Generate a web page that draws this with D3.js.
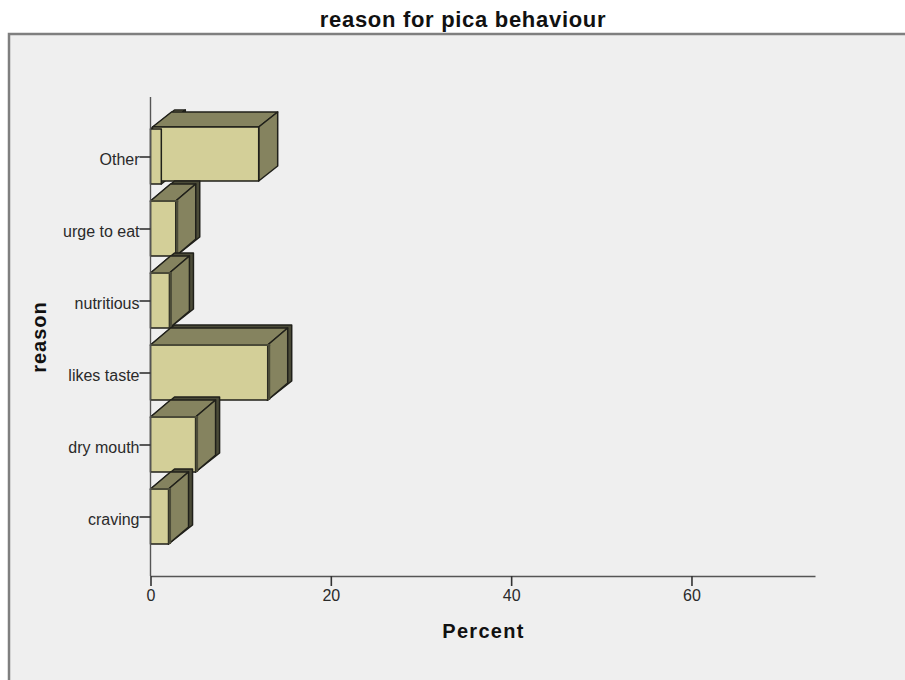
<!DOCTYPE html>
<html>
<head>
<meta charset="utf-8">
<script src="https://cdn.jsdelivr.net/npm/d3@7"></script>
<style>
html, body { margin: 0; padding: 0; background: #fff; }
svg { display: block; font-family: "Liberation Sans", Arial, sans-serif; }
.axis path { stroke: #555; stroke-width: 1.4; }
.axis line { stroke: #333; stroke-width: 1.6; }
.axis text { fill: #2a2a2a; font-size: 16px; font-family: "Liberation Sans", Arial, sans-serif; }
.edge { stroke: #20201a; stroke-width: 1.5; stroke-linejoin: round; }
.band { fill: #4b4b38; }
</style>
</head>
<body>
<div id="chart"></div>
<script>
var categories = ["craving", "dry mouth", "likes taste", "nutritious", "urge to eat", "Other"];
var percents = [2.0, 5.0, 13.0, 2.1, 2.8, 1.2];
// "Other" has a second, longer bar sitting behind the short one
var otherCategory = "Other";
var otherSecondPercent = 12.0;
var xTicks = [0, 20, 40, 60];

var width = 905, height = 680;

var svg = d3.select("#chart").append("svg")
  .attr("width", width)
  .attr("height", height);

svg.append("rect")
  .attr("x", 9).attr("y", 34)
  .attr("width", width).attr("height", height)
  .attr("fill", "#efefef")
  .attr("stroke", "#7f7f7f")
  .attr("stroke-width", 2.5);

var xscale = d3.scaleLinear()
  .domain([0, 73.7])
  .range([150.5, 815]);

var yscale = d3.scalePoint()
  .domain(categories)
  .range([516.5, 156.5]);

var barH = 55;

function poly(g, pts, fill) {
  g.append("polygon")
    .attr("class", "edge")
    .attr("points", pts.map(p => p.join(",")).join(" "))
    .attr("fill", fill);
}

// top and side faces, with the dark strip along the back edge
function faces(g, x0, x1, yTop, h, dx, dy, strip) {
  if (strip) {
    poly(g, [[x0, yTop], [x0 + dx, yTop + dy - 1], [x1 + dx, yTop + dy - 1], [x1 + dx, yTop + h + dy], [x1, yTop + h]], "#4b4b38");
    dx -= 4;
    dy += 2;
  }
  poly(g, [[x0, yTop], [x0 + dx, yTop + dy], [x1 + dx, yTop + dy], [x1, yTop]], "#85835f");
  poly(g, [[x1, yTop], [x1 + dx, yTop + dy], [x1 + dx, yTop + h + dy], [x1, yTop + h]], "#85835f");
}

function front(g, x0, x1, yTop, h, strip) {
  g.append("rect")
    .attr("class", "edge")
    .attr("x", x0).attr("y", yTop)
    .attr("width", x1 - x0).attr("height", h)
    .attr("fill", "#d3cf98");
  if (strip) {
    g.append("rect").attr("class", "band")
      .attr("x", x1).attr("y", yTop)
      .attr("width", 2.5).attr("height", h);
    g.append("rect").attr("class", "band")
      .attr("x", x0).attr("y", yTop - 1)
      .attr("width", x1 - x0 + 2.5).attr("height", 2);
  }
}

var bars = svg.append("g");

// top bar first, the ones lower down overlap it
categories.slice().reverse().forEach(function (c) {
  var v = percents[categories.indexOf(c)];
  var x0 = xscale(0), x1 = xscale(v), yTop = yscale(c) - barH / 2;
  var isOther = c === otherCategory;
  faces(bars, x0, x1, yTop, barH, 24, -19, !isOther);
  if (isOther) {
    var x2 = xscale(otherSecondPercent);
    faces(bars, x0 + 2, x2, yTop - 2, barH - 1, 19, -15, false);
    front(bars, x0 + 2, x2, yTop - 2, barH - 1, false);
  }
  front(bars, x0, x1, yTop, barH, !isOther);
});

svg.append("g")
  .attr("class", "axis")
  .attr("transform", "translate(0,576)")
  .call(d3.axisBottom(xscale).tickValues(xTicks).tickSize(10).tickSizeOuter(0).tickPadding(4).tickFormat(d3.format("d")));

var yAxis = svg.append("g")
  .attr("class", "axis")
  .attr("transform", "translate(150.5,0)")
  .call(d3.axisLeft(yscale).tickSize(11).tickSizeOuter(0).tickPadding(0));
yAxis.select(".domain").attr("d", "M0,97V576");
yAxis.selectAll("text").attr("dy", "0.48em");

svg.append("text")
  .attr("x", 463).attr("y", 27)
  .attr("text-anchor", "middle")
  .attr("font-size", "22px")
  .attr("font-weight", "bold")
  .attr("letter-spacing", "0.7px")
  .attr("fill", "#111")
  .text("reason for pica behaviour");

svg.append("text")
  .attr("x", 483.5).attr("y", 638)
  .attr("text-anchor", "middle")
  .attr("font-size", "20px")
  .attr("font-weight", "bold")
  .attr("letter-spacing", "1.3px")
  .attr("fill", "#111")
  .text("Percent");

svg.append("text")
  .attr("transform", "translate(46,337)rotate(-90)")
  .attr("text-anchor", "middle")
  .attr("font-size", "20px")
  .attr("font-weight", "bold")
  .attr("letter-spacing", "1px")
  .attr("fill", "#111")
  .text("reason");
</script>
</body>
</html>
